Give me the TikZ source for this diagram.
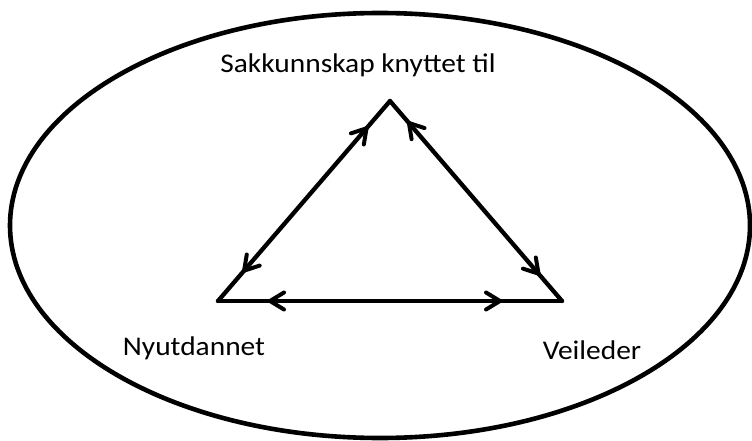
\documentclass[tikz,border=0pt]{standalone}
\usepackage{fontspec}
\setmainfont{Carlito}[FakeStretch=1.09]
\usetikzlibrary{arrows.meta,decorations.markings}
\tikzset{
  outline/.style={line width=4.6pt},
  edge/.style={line width=4.3pt, line cap=round},
  barb/.tip={Straight Barb[length=14pt,width=17pt,line width=4pt,round]},
  label/.style={font=\fontsize{27}{30}\selectfont, anchor=base, inner sep=0pt},
}
\begin{document}
\begin{tikzpicture}[x=1pt,y=-1pt]
\useasboundingbox (0,0) rectangle (752,441);
\draw[outline] (380,225.5) ellipse [x radius=370pt, y radius=212.5pt];
\coordinate (T) at (390,101);
\coordinate (L) at (218,301);
\coordinate (R) at (562,301);
\draw[edge, postaction={decorate, decoration={markings,
   mark=at position 34pt with {\arrowreversed{barb}},
   mark=at position -38pt with {\arrow{barb}}}}] (T) -- (L);
\draw[edge, postaction={decorate, decoration={markings,
   mark=at position 27pt with {\arrowreversed{barb}},
   mark=at position -34pt with {\arrow{barb}}}}] (T) -- (R);
\draw[edge, postaction={decorate, decoration={markings,
   mark=at position 50pt with {\arrowreversed{barb}},
   mark=at position -60pt with {\arrow{barb}}}}] (L) -- (R);
\node[label] (top) at (358,73) {Sakkunnskap knyttet til};
\node[label] (ny) at (194,355) {Nyutdannet};
\node[label] (vei) at (592,359) {Veileder};
\end{tikzpicture}
\end{document}
